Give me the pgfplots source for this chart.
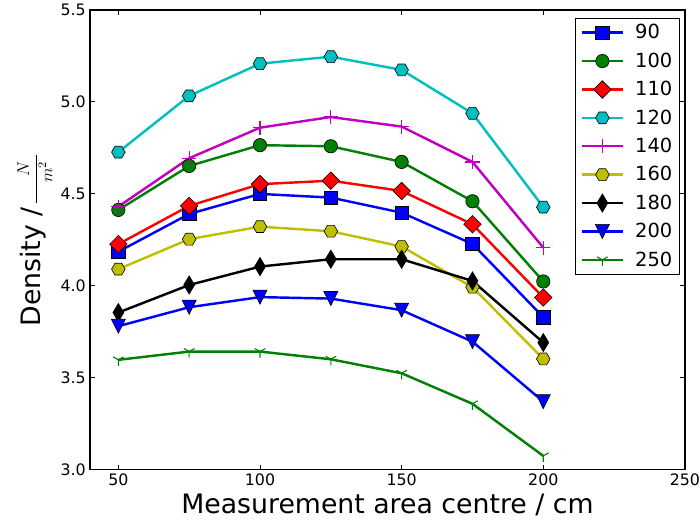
\RequirePackage{fix-cm}
\documentclass[border=0pt]{standalone}
\usepackage{fontspec}
\setmainfont{DejaVu Sans}
\usepackage{pgfplots}
\pgfplotsset{compat=1.18}

% Marker shapes in the style of the classic matplotlib set
\pgfdeclareplotmark{mpldiamond}{%
  \pgfpathmoveto{\pgfpoint{0pt}{\pgfplotmarksize}}%
  \pgfpathlineto{\pgfpoint{\pgfplotmarksize}{0pt}}%
  \pgfpathlineto{\pgfpoint{0pt}{-\pgfplotmarksize}}%
  \pgfpathlineto{\pgfpoint{-\pgfplotmarksize}{0pt}}%
  \pgfpathclose\pgfusepathqfillstroke}
\pgfdeclareplotmark{mplthindiamond}{%
  \pgfpathmoveto{\pgfpoint{0pt}{\pgfplotmarksize}}%
  \pgfpathlineto{\pgfpoint{0.6\pgfplotmarksize}{0pt}}%
  \pgfpathlineto{\pgfpoint{0pt}{-\pgfplotmarksize}}%
  \pgfpathlineto{\pgfpoint{-0.6\pgfplotmarksize}{0pt}}%
  \pgfpathclose\pgfusepathqfillstroke}
\pgfdeclareplotmark{mplhexagon}{%
  \pgfpathmoveto{\pgfpointpolar{0}{\pgfplotmarksize}}%
  \pgfpathlineto{\pgfpointpolar{60}{\pgfplotmarksize}}%
  \pgfpathlineto{\pgfpointpolar{120}{\pgfplotmarksize}}%
  \pgfpathlineto{\pgfpointpolar{180}{\pgfplotmarksize}}%
  \pgfpathlineto{\pgfpointpolar{240}{\pgfplotmarksize}}%
  \pgfpathlineto{\pgfpointpolar{300}{\pgfplotmarksize}}%
  \pgfpathclose\pgfusepathqfillstroke}
\pgfdeclareplotmark{mpltriangledown}{%
  \pgfpathmoveto{\pgfpoint{0pt}{-\pgfplotmarksize}}%
  \pgfpathlineto{\pgfpoint{\pgfplotmarksize}{\pgfplotmarksize}}%
  \pgfpathlineto{\pgfpoint{-\pgfplotmarksize}{\pgfplotmarksize}}%
  \pgfpathclose\pgfusepathqfillstroke}
\pgfdeclareplotmark{mpltridown}{%
  \pgfpathmoveto{\pgfpointorigin}\pgfpathlineto{\pgfpoint{0pt}{-\pgfplotmarksize}}%
  \pgfpathmoveto{\pgfpointorigin}\pgfpathlineto{\pgfpointpolar{150}{\pgfplotmarksize}}%
  \pgfpathmoveto{\pgfpointorigin}\pgfpathlineto{\pgfpointpolar{30}{\pgfplotmarksize}}%
  \pgfusepathqstroke}

\definecolor{mplblue}{rgb}{0,0,1}
\definecolor{mplgreen}{rgb}{0,0.5,0}
\definecolor{mplred}{rgb}{1,0,0}
\definecolor{mplcyan}{rgb}{0,0.75,0.75}
\definecolor{mplmagenta}{rgb}{0.75,0,0.75}
\definecolor{mplyellow}{rgb}{0.75,0.75,0}

% Unit of the density axis, set as a wide fraction
\newcommand{\densityunit}{{\fontsize{14}{16}\selectfont
  $\displaystyle\frac{\makebox[40pt][l]{\hspace{22pt}$N$}}%
                     {\makebox[40pt][l]{\hspace{17pt}$m^{2}$}}$}}

% Density per measurement area centre, one column per series
\pgfplotstableread{
x    d90   d100  d110  d120  d140  d160  d180  d200  d250
50   4.186 4.413 4.227 4.727 4.431 4.091 3.855 3.781 3.598
75   4.391 4.652 4.435 5.033 4.694 4.254 4.005 3.884 3.643
100  4.500 4.765 4.553 5.208 4.860 4.322 4.105 3.939 3.643
125  4.480 4.759 4.572 5.246 4.918 4.297 4.145 3.931 3.601
150  4.398 4.674 4.516 5.174 4.866 4.214 4.145 3.868 3.525
175  4.228 4.460 4.335 4.938 4.674 3.993 4.027 3.697 3.359
200  3.830 4.024 3.937 4.428 4.208 3.603 3.692 3.371 3.076
}\density

\begin{document}
\begin{tikzpicture}
\begin{axis}[
  name=ax,
  scale only axis,
  width=489.6pt, height=378.5pt,
  xmin=40, xmax=250, ymin=3, ymax=5.5,
  xtick={50,100,150,200,250},
  ytick={3,3.5,4,4.5,5,5.5},
  yticklabel style={/pgf/number format/.cd, fixed, fixed zerofill, precision=1},
  /pgf/number format/assume math mode=true,
  tick align=inside,
  major tick length=4pt,
  tick style={black, line width=0.8pt},
  axis line style={black, line width=1pt},
  ticklabel style={font=\fontsize{13}{15}\selectfont},
  xlabel={Measurement area centre / cm},
  ylabel={Density /\hspace{2pt}\densityunit},
  label style={font=\fontsize{22}{26}\selectfont},
  every axis plot/.append style={line width=2pt},
  legend style={at={(1,1)}, anchor=north east, xshift=-4pt, yshift=-6.6pt,
    draw=black, line width=0.8pt, font=\fontsize{16}{19}\selectfont,
    inner xsep=4pt, inner ysep=3pt, row sep=6pt,
    /tikz/every odd column/.append style={column sep=7pt}},
  legend cell align=left,
  legend image code/.code={%
    \draw[mark repeat=2, mark phase=2] plot coordinates {(0pt,0pt) (17pt,0pt) (34pt,0pt)};},
]
\addplot[mplblue, mark=square*, mark size=5.5pt,
  mark options={fill=mplblue, draw=black, line width=0.5pt}] table[x=x, y=d90] {\density};
\addlegendentry{90}
\addplot[mplgreen, mark=*, mark size=5.5pt,
  mark options={fill=mplgreen, draw=black, line width=0.5pt}] table[x=x, y=d100] {\density};
\addlegendentry{100}
\addplot[mplred, mark=mpldiamond, mark size=7.2pt,
  mark options={fill=mplred, draw=black, line width=0.5pt}] table[x=x, y=d110] {\density};
\addlegendentry{110}
\addplot[mplcyan, mark=mplhexagon, mark size=5.6pt,
  mark options={fill=mplcyan, draw=black, line width=0.5pt}] table[x=x, y=d120] {\density};
\addlegendentry{120}
\addplot[mplmagenta, mark=+, mark size=5.8pt,
  mark options={line width=1pt}] table[x=x, y=d140] {\density};
\addlegendentry{140}
\addplot[mplyellow, mark=mplhexagon, mark size=5.6pt,
  mark options={fill=mplyellow, draw=black, line width=0.5pt}] table[x=x, y=d160] {\density};
\addlegendentry{160}
\addplot[black, mark=mplthindiamond, mark size=7.5pt,
  mark options={fill=black, draw=black, line width=0.5pt}] table[x=x, y=d180] {\density};
\addlegendentry{180}
\addplot[mplblue, mark=mpltriangledown, mark size=5.8pt,
  mark options={fill=mplblue, draw=black, line width=0.5pt}] table[x=x, y=d200] {\density};
\addlegendentry{200}
\addplot[mplgreen, mark=mpltridown, mark size=5pt,
  mark options={line width=0.9pt}] table[x=x, y=d250] {\density};
\addlegendentry{250}
\end{axis}
\pgfresetboundingbox
\path[use as bounding box] ([shift={(-74.1pt,-45.3pt)}]ax.south west)
  rectangle ([shift={(12.4pt,8.2pt)}]ax.north east);
\end{tikzpicture}
\end{document}
